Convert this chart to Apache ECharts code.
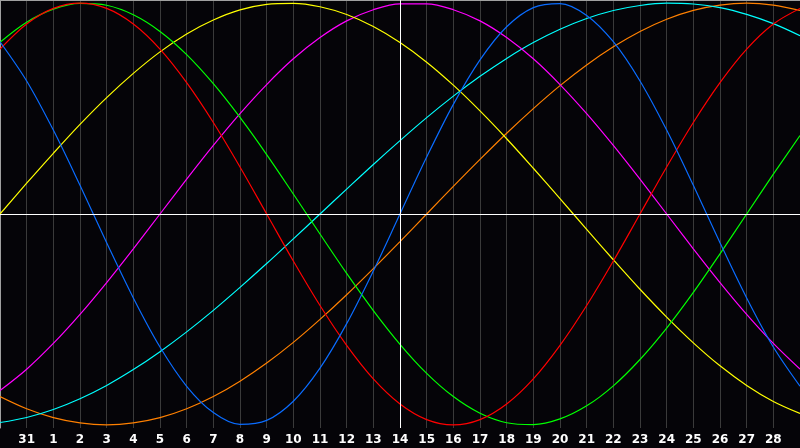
<!DOCTYPE html>
<html>
<head>
<meta charset="utf-8">
<script src="https://cdn.jsdelivr.net/npm/echarts@6/dist/echarts.min.js"></script>
<style>
html,body{margin:0;padding:0;background:#050408;}
#chart{width:800px;height:448px;}
</style>
</head>
<body>
<div id="chart"></div>
<script>
// day labels (index 0 = 30th of previous month, index 30 = 29th)
const days = ['30','31','1','2','3','4','5','6','7','8','9','10','11','12','13','14','15','16','17','18','19','20','21','22','23','24','25','26','27','28','29'];
const todayLabel = '14';

const physical = [81.7,63.1,39.8,13.6,-13.6,-39.8,-63.1,-81.7,-94.2,-99.8,-97.9,-88.8,-73.1,-52.0,-27.0,0,27.0,52.0,73.1,88.8,97.9,99.8,94.2,81.7,63.1,39.8,13.6,-13.6,-39.8,-63.1,-81.7];
const emotional = [78.2,90.1,97.5,100,97.5,90.1,78.2,62.3,43.4,22.3,0,-22.3,-43.4,-62.3,-78.2,-90.1,-97.5,-100,-97.5,-90.1,-78.2,-62.3,-43.4,-22.3,0,22.3,43.4,62.3,78.2,90.1,97.5];
const intellectual = [81.5,91.0,97.2,99.9,99.0,94.5,86.6,75.6,61.8,45.8,28.2,9.5,-9.5,-28.2,-45.8,-61.8,-75.6,-86.6,-94.5,-99.0,-99.9,-97.2,-91.0,-81.5,-69.0,-54.1,-37.2,-18.9,0,18.9,37.2];
const aesthetic = [0,14.6,28.8,42.5,55.2,66.7,76.9,85.4,92.0,96.8,99.4,99.9,98.3,94.6,88.9,81.3,72.0,61.1,48.9,35.7,21.7,7.3,-7.3,-21.7,-35.7,-48.9,-61.1,-72.0,-81.3,-88.9,-94.6];
const intuition = [-83.7,-73.6,-61.4,-47.6,-32.5,-16.5,0,16.5,32.5,47.6,61.4,73.6,83.7,91.6,96.9,99.7,99.7,96.9,91.6,83.7,73.6,61.4,47.6,32.5,16.5,0,-16.5,-32.5,-47.6,-61.4,-73.6];
const spiritual = [-98.9,-96.5,-92.7,-87.6,-81.3,-73.8,-65.3,-55.9,-45.7,-34.8,-23.5,-11.8,0,11.8,23.5,34.8,45.7,55.9,65.3,73.8,81.3,87.6,92.7,96.5,98.9,100.0,99.6,97.9,94.7,90.3,84.6];
const awareness = [-86.6,-92.4,-96.6,-99.1,-100,-99.1,-96.6,-92.4,-86.6,-79.3,-70.7,-60.9,-50.0,-38.3,-25.9,-13.1,0,13.1,25.9,38.3,50.0,60.9,70.7,79.3,86.6,92.4,96.6,99.1,100,99.1,96.6];

const seriesDefs = [
  {name:'Awareness', data:awareness, color:'#ff8000'},
  {name:'Spiritual', data:spiritual, color:'#00ffff'},
  {name:'Intuition', data:intuition, color:'#ff00ff'},
  {name:'Aesthetic', data:aesthetic, color:'#ffff00'},
  {name:'Intellectual', data:intellectual, color:'#00ff00'},
  {name:'Emotional', data:emotional, color:'#ff0000'},
  {name:'Physical', data:physical, color:'#0a6cff'}
];

const chart = echarts.init(document.getElementById('chart'));
const series = seriesDefs.map(s => ({
  name: s.name, type: 'line', data: s.data, smooth: 0.33, showSymbol: false,
  lineStyle: {color: s.color, width: 1.2}, itemStyle:{color:s.color}, z: 3, animation: false
}));
series.push({
  type: 'line', data: [], silent: true, animation: false,
  markLine: {
    symbol: 'none', silent: true, animation: false, label: {show: false},
    lineStyle: {color: '#ffffff', width: 1, type: 'solid'},
    data: [{xAxis: todayLabel}, {yAxis: 0}]
  }, z: 2
});

chart.setOption({
  backgroundColor: '#050408',
  animation: false,
  grid: {left: 0, right: 0, top: 0, bottom: 20, containLabel: false},
  xAxis: [{
    type: 'category', data: days, boundaryGap: false,
    axisLine: {show: true, lineStyle: {color: '#a0a0a0', width: 1}},
    axisTick: {show: false},
    axisLabel: {
      interval: (i) => i > 0 && i < days.length - 1,
      color: '#ffffff', fontFamily: 'DejaVu Sans', fontWeight: 'bold', fontSize: 12,
      margin: 6
    },
    splitLine: {show: true, interval: 0, lineStyle: {color: '#3a3a3a', width: 1}}
  }, {
    type: 'category', data: days, boundaryGap: false, position: 'top',
    axisLine: {show: true, lineStyle: {color: '#a0a0a0', width: 1}},
    axisTick: {show: false}, axisLabel: {show: false}, splitLine: {show: false}
  }],
  yAxis: {
    type: 'value', min: -101.5, max: 101.5,
    axisLine: {show: true, lineStyle: {color: '#a0a0a0'}},
    axisTick: {show: false}, axisLabel: {show: false}, splitLine: {show: false}
  },
  series: series
});
</script>
</body>
</html>
